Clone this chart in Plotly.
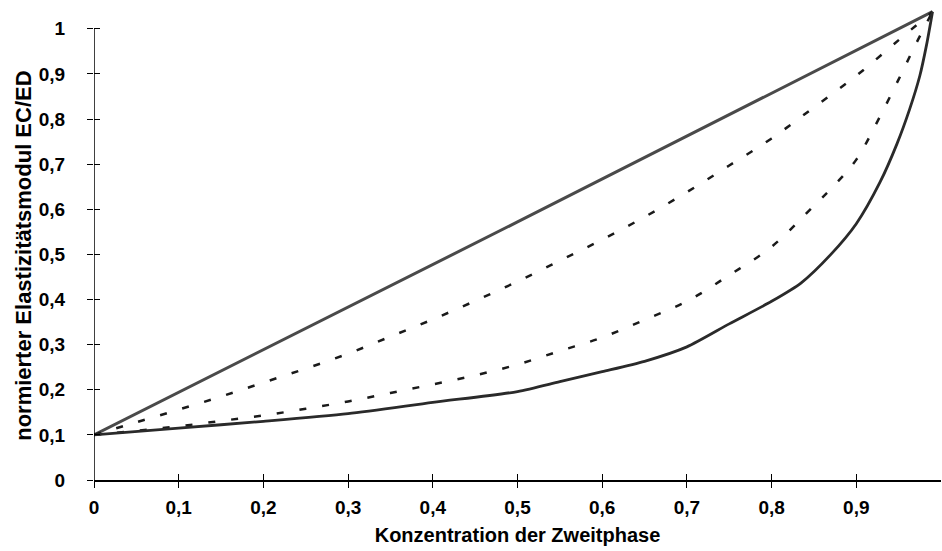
import plotly.graph_objects as go

# ---- data ----
x_upper_line = [0.0, 0.5, 0.99]
y_upper_line = [0.1, 0.572, 1.038]

x_upper_dash = [0.0, 0.05, 0.1, 0.15, 0.2, 0.25, 0.3, 0.35, 0.4, 0.45, 0.5, 0.55, 0.6,
                0.65, 0.7, 0.75, 0.8, 0.85, 0.9, 0.95, 0.99]
y_upper_dash = [0.1, 0.128, 0.156, 0.185, 0.216, 0.247, 0.28, 0.318, 0.356, 0.397, 0.44,
                0.486, 0.533, 0.583, 0.638, 0.697, 0.757, 0.826, 0.896, 0.975, 1.038]

x_lower_dash = [0.0, 0.05, 0.1, 0.15, 0.2, 0.25, 0.3, 0.35, 0.4, 0.45, 0.5, 0.55, 0.6,
                0.65, 0.7, 0.75, 0.8, 0.85, 0.875, 0.9, 0.925, 0.95, 0.97, 0.99]
y_lower_dash = [0.1, 0.109, 0.119, 0.131, 0.143, 0.158, 0.174, 0.193, 0.212, 0.232, 0.256,
                0.286, 0.316, 0.355, 0.396, 0.454, 0.517, 0.608, 0.655, 0.71, 0.795, 0.888,
                0.965, 1.038]

x_lower_line = [0.0, 0.1, 0.2, 0.3, 0.4, 0.5, 0.55, 0.6, 0.65, 0.7, 0.75, 0.8, 0.835,
                0.87, 0.9, 0.928, 0.948, 0.963, 0.975, 0.983, 0.99]
y_lower_line = [0.1, 0.115, 0.13, 0.147, 0.172, 0.196, 0.218, 0.24, 0.263, 0.295, 0.346,
                0.396, 0.437, 0.5, 0.568, 0.66, 0.745, 0.822, 0.896, 0.965, 1.038]

x_tickvals = [0, 0.1, 0.2, 0.3, 0.4, 0.5, 0.6, 0.7, 0.8, 0.9]
x_ticktext = ["0", "0,1", "0,2", "0,3", "0,4", "0,5", "0,6", "0,7", "0,8", "0,9"]
y_tickvals = [0, 0.1, 0.2, 0.3, 0.4, 0.5, 0.6, 0.7, 0.8, 0.9, 1]
y_ticktext = ["0", "0,1", "0,2", "0,3", "0,4", "0,5", "0,6", "0,7", "0,8", "0,9", "1"]

x_title = "Konzentration der Zweitphase"
y_title = "normierter Elastizitätsmodul EC/ED"

FONT = "Liberation Sans"
XR = [0, 1.0]
YR = [0, 1.055]

fig = go.Figure()
fig.add_trace(go.Scatter(x=x_upper_line, y=y_upper_line, mode="lines",
                         line=dict(color="#4a4a4a", width=3), showlegend=False))
fig.add_trace(go.Scatter(x=x_upper_dash, y=y_upper_dash, mode="lines", line_shape="spline",
                         line=dict(color="#1a1a1a", width=2.5, dash="7px,16px"), showlegend=False))
fig.add_trace(go.Scatter(x=x_lower_dash, y=y_lower_dash, mode="lines", line_shape="spline",
                         line=dict(color="#1a1a1a", width=2.5, dash="7px,16px"), showlegend=False))
fig.add_trace(go.Scatter(x=x_lower_line, y=y_lower_line, mode="lines", line_shape="spline",
                         line=dict(color="#2a2a2a", width=2.8, smoothing=0.7), showlegend=False))
# invisible helper trace to activate the overlay axes (inner half of the crossing ticks)
fig.add_trace(go.Scatter(x=x_upper_line, y=y_upper_line, xaxis="x2", yaxis="y2",
                         mode="lines", line=dict(width=0, color="rgba(0,0,0,0)"),
                         showlegend=False, hoverinfo="skip"))

tickfont = dict(family=FONT, size=19, color="black", weight="bold")

fig.update_layout(
    width=942, height=551,
    margin=dict(l=94, r=1, t=4, b=71),
    paper_bgcolor="white", plot_bgcolor="white",
    xaxis=dict(range=XR, tickmode="array", tickvals=x_tickvals, ticktext=x_ticktext,
               ticks="outside", ticklen=6, tickwidth=1.2, tickcolor="black",
               showline=True, linecolor="black", linewidth=1.5,
               showgrid=False, zeroline=False, tickfont=tickfont, ticklabelstandoff=3,
               title=dict(text=x_title,
                          font=dict(family=FONT, size=20, color="black", weight="bold"),
                          standoff=11)),
    yaxis=dict(range=YR, tickmode="array", tickvals=y_tickvals, ticktext=y_ticktext,
               ticks="outside", ticklen=6, tickwidth=1.2, tickcolor="black",
               showline=False, showgrid=False, zeroline=False, tickfont=tickfont,
               ticklabelstandoff=18),
    xaxis2=dict(range=XR, overlaying="x", anchor="y2", side="bottom", tickmode="array",
                tickvals=x_tickvals, ticks="inside", ticklen=6, tickwidth=1.2,
                tickcolor="black", showticklabels=False, showline=False,
                showgrid=False, zeroline=False),
    yaxis2=dict(range=YR, overlaying="y", anchor="x2", side="left", tickmode="array",
                tickvals=y_tickvals, ticks="inside", ticklen=6, tickwidth=1.2,
                tickcolor="black", showticklabels=False, showline=False,
                showgrid=False, zeroline=False),
    shapes=[dict(type="line", xref="x", yref="y", x0=0, x1=0, y0=0, y1=1,
                 line=dict(color="black", width=1.5), layer="above")],
    annotations=[dict(text=y_title, textangle=-90, xref="paper", yref="paper",
                      x=0, y=0.471, xanchor="center", yanchor="middle", xshift=-70,
                      showarrow=False,
                      font=dict(family=FONT, size=22, color="black", weight="bold"))],
)

fig.write_html("out.html")
